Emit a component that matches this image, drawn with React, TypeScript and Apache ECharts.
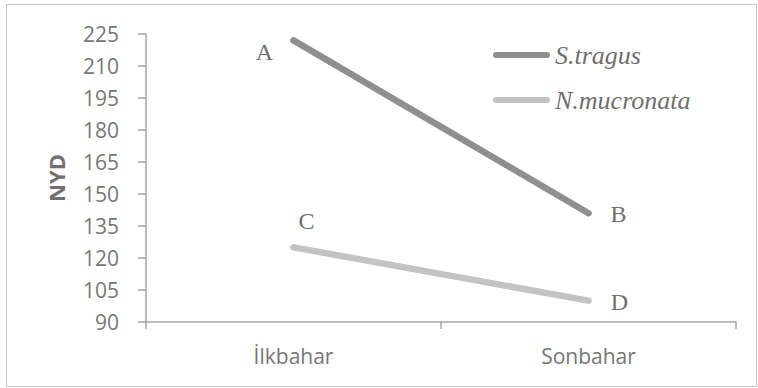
import React, { useEffect, useRef } from "react";
import * as echarts from "echarts";

const categories = ["İlkbahar", "Sonbahar"];
const seriesNames = ["S.tragus", "N.mucronata"];
const sTragus = [222, 141];
const nMucronata = [125, 100];
const sTragusLetters = ["A", "B"];
const nMucronataLetters = ["C", "D"];
const yTicks = { min: 90, max: 225, interval: 15 };

const letterOffsets: Record<string, number[]> = {
  A: [-29, 12],
  B: [30, 1],
  C: [13, -26],
  D: [31, 1],
};

const serif = "'Liberation Serif', 'Times New Roman', serif";

const letterStyle = {
  fontFamily: serif,
  fontSize: 24,
  color: "#6f6f6f",
};

function makeData(values: number[], letters: string[]) {
  return values.map((v, i) => ({
    value: v,
    label: {
      show: true,
      position: "inside",
      formatter: letters[i],
      offset: letterOffsets[letters[i]],
      ...letterStyle,
    },
  }));
}

export default function App() {
  const ref = useRef<HTMLDivElement>(null);
  useEffect(() => {
    if (!ref.current) return;
    const chart = echarts.init(ref.current, undefined, { renderer: "svg" });
    const legendIcon = "path://M3,0 H54 A3,3 0 0 1 54,6 H3 A3,3 0 0 1 3,0 Z";
    chart.setOption({
      animation: false,
      backgroundColor: "#ffffff",
      graphic: [
        {
          type: "rect",
          shape: { x: 6.5, y: 4.5, width: 750, height: 382 },
          style: { fill: "none", stroke: "#c4c4c4", lineWidth: 1 },
          silent: true,
        },
      ],
      grid: { left: 146, right: 22, top: 34, bottom: 66, containLabel: false },
      legend: {
        orient: "vertical",
        left: 488,
        top: 36,
        padding: 5,
        itemWidth: 57,
        itemHeight: 7,
        itemGap: 17,
        itemTextGap: 3,
        selectedMode: false,
        data: [
          { name: seriesNames[0], icon: legendIcon, itemStyle: { color: "#8f8f8f" } },
          { name: seriesNames[1], icon: legendIcon, itemStyle: { color: "#c3c3c3" } },
        ],
        textStyle: {
          fontFamily: serif,
          fontStyle: "italic",
          fontSize: 26,
          color: "#6f6f6f",
          lineHeight: 28,
        },
      },
      xAxis: {
        type: "category",
        data: categories,
        boundaryGap: true,
        axisLine: { lineStyle: { color: "#a6a6a6", width: 1.5 } },
        axisTick: { show: true, length: 7, lineStyle: { color: "#a6a6a6", width: 1.5 } },
        axisLabel: {
          fontFamily: "Open Sans",
          fontSize: 21,
          color: "#777777",
          margin: 23,
        },
        splitLine: { show: false },
      },
      yAxis: {
        type: "value",
        min: yTicks.min,
        max: yTicks.max,
        interval: yTicks.interval,
        name: "NYD",
        nameLocation: "middle",
        nameGap: 79,
        nameRotate: 90,
        nameTextStyle: {
          fontFamily: "Open Sans",
          fontWeight: "bold",
          fontSize: 22,
          color: "#6f6f6f",
        },
        axisLine: { show: true, lineStyle: { color: "#a6a6a6", width: 1.5 } },
        axisTick: { show: true, length: 8, lineStyle: { color: "#a6a6a6", width: 1.5 } },
        axisLabel: {
          fontFamily: "Open Sans",
          fontSize: 21,
          color: "#777777",
          margin: 27,
        },
        splitLine: { show: false },
      },
      series: [
        {
          name: seriesNames[0],
          type: "line",
          data: makeData(sTragus, sTragusLetters),
          symbol: "circle",
          symbolSize: 6,
          itemStyle: { color: "#8f8f8f" },
          lineStyle: { color: "#8f8f8f", width: 6.5, cap: "round" },
        },
        {
          name: seriesNames[1],
          type: "line",
          data: makeData(nMucronata, nMucronataLetters),
          symbol: "circle",
          symbolSize: 6,
          itemStyle: { color: "#c3c3c3" },
          lineStyle: { color: "#c3c3c3", width: 6.5, cap: "round" },
        },
      ],
    });
    return () => chart.dispose();
  }, []);
  return (
    <div
      ref={ref}
      style={{ position: "fixed", left: 0, top: 0, width: 758, height: 388 }}
    />
  );
}
